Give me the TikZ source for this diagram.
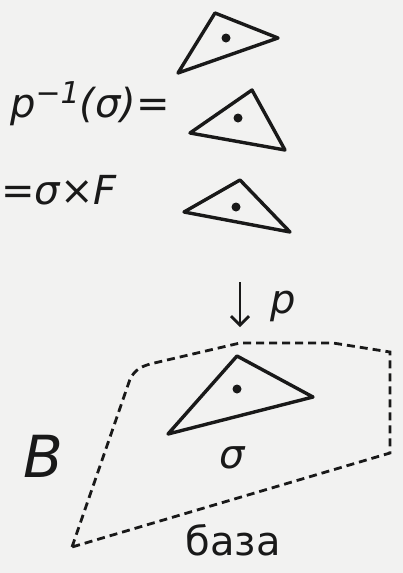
\documentclass[tikz,border=0pt]{standalone}
\usepackage{fontspec}
\setmainfont{DejaVu Sans}
\usetikzlibrary{arrows.meta}
\definecolor{paper}{RGB}{242,242,241}
\definecolor{ink}{RGB}{25,25,25}
\begin{document}
\begin{tikzpicture}[x=1pt,y=-1pt,
  tri/.style={draw=ink,line width=3.4pt,line join=round},
  pt/.style={fill=ink,circle,inner sep=0pt,minimum size=9pt},
  lbl/.style={text=ink,inner sep=0pt,font=\fontsize{40}{44}\selectfont\itshape},
  base/.style={draw=ink,line width=2.8pt,dash pattern=on 8pt off 5pt}]
\fill[paper] (0,0) rectangle (403,573);
\useasboundingbox (0,0) rectangle (403,573);
% fibre triangles
\draw[tri] (178,73) -- (215,13) -- (278,38) -- cycle;
\node[pt] (d1) at (226,38) {};
\draw[tri] (190,133) -- (252,90) -- (285,150) -- cycle;
\node[pt] (d2) at (238,118) {};
\draw[tri] (184,212) -- (240,180) -- (290,232) -- cycle;
\node[pt] (d3) at (236,207) {};
% labels
\node[lbl,anchor=west] (pre) at (10,104) {p\raisebox{14pt}{\fontsize{30}{32}\selectfont −1}(σ)=};
\node[lbl,anchor=west] (prod) at (1,190) {=σ×F};
% projection arrow
\coordinate (atop) at (240,282);
\coordinate (abot) at (240,327);
\draw[ink,line width=2.8pt,-{Straight Barb[length=9pt,width=18pt]}] (atop) -- (abot);
\node[lbl] (p) at (283,306) {p};
% base region
\draw[base] (72,547) -- (128,385) .. controls (132,371) and (140,367) .. (150,364) -- (240,343) -- (333,343) -- (390,352) -- (390,453) -- cycle;
% base triangle
\draw[tri] (168,434) -- (237,356) -- (313,397) -- cycle;
\node[pt] (d0) at (237,389) {};
\node[lbl] (sig) at (232,458) {σ};
\node[lbl,font=\fontsize{58}{62}\selectfont\itshape] (B) at (43,456) {B};
\node[lbl,font=\fontsize{40}{44}\selectfont] (baza) at (233,540) {база};
\end{tikzpicture}
\end{document}
